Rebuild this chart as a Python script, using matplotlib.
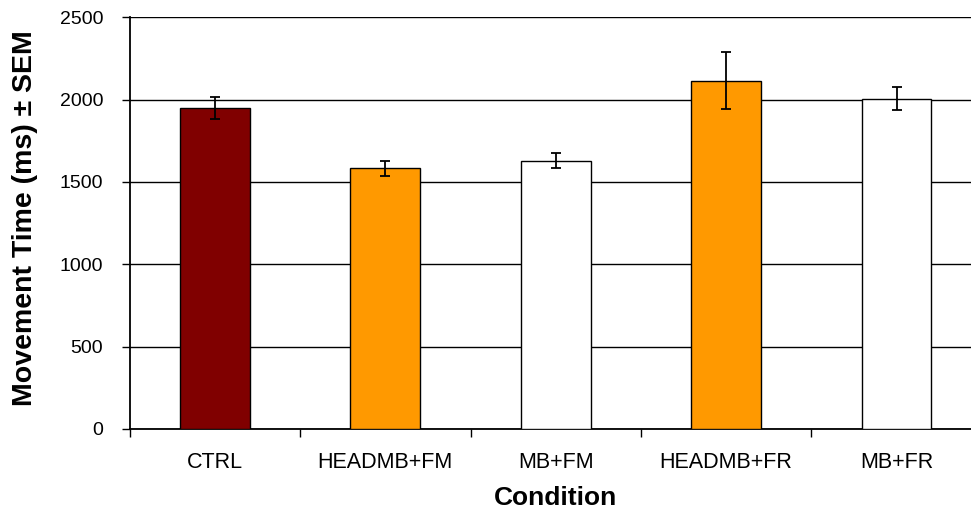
import matplotlib
matplotlib.use("Agg")
import matplotlib.pyplot as plt
import numpy as np

# data
conditions = ['CTRL', 'HEADMB+FM', 'MB+FM', 'HEADMB+FR', 'MB+FR']
mean_ms = [1950, 1583, 1630, 2115, 2005]
sem_ms = [68, 46, 47, 172, 71]
bar_colors = ['#800000', '#FF9900', '#FFFFFF', '#FF9900', '#FFFFFF']

plt.rcParams['font.family'] = ['Liberation Sans', 'DejaVu Sans']

fig = plt.figure(figsize=(9.71, 5.12), dpi=100)
# axes run slightly past the right edge, like the original
ax = fig.add_axes([129.7 / 971, 1 - 428.8 / 512, 852 / 971, 411.5 / 512])

x = np.arange(len(conditions))
ax.bar(x, mean_ms, width=0.41, color=bar_colors, edgecolor='black',
       linewidth=1.0, zorder=3)
ax.errorbar(x, mean_ms, yerr=sem_ms, fmt='none', ecolor='black',
            elinewidth=1.3, capsize=3.9, capthick=1.3, zorder=4)

ax.set_xlim(-0.5, len(conditions) - 0.5)
ax.set_ylim(0, 2500)
ax.set_yticks(np.arange(0, 2501, 500))
ax.yaxis.grid(True, color='black', linewidth=1.0, zorder=0)
ax.set_axisbelow(True)

# category ticks sit between bars, labels centred under bars
ax.set_xticks(np.arange(-0.5, len(conditions), 1.0))
ax.set_xticklabels([])
ax.set_xticks(x, minor=True)
ax.set_xticklabels(conditions, minor=True, fontsize=15.5)
ax.tick_params(axis='x', which='minor', length=0, pad=17)
ax.tick_params(axis='x', which='major', length=6, width=1.0, direction='out')
ax.tick_params(axis='y', length=6, width=1.0, direction='out', labelsize=14, pad=13)

for side in ['top', 'right']:
    ax.spines[side].set_visible(False)
for side in ['left', 'bottom']:
    ax.spines[side].set_linewidth(1.3)

ax.set_xlabel('Condition', fontsize=19, fontweight='bold', labelpad=9)
ax.set_ylabel('Movement Time (ms) \u00b1 SEM', fontsize=20.5, fontweight='bold')
ax.yaxis.set_label_coords(-0.108, 0.513)

fig.savefig('out.png', dpi=100)
